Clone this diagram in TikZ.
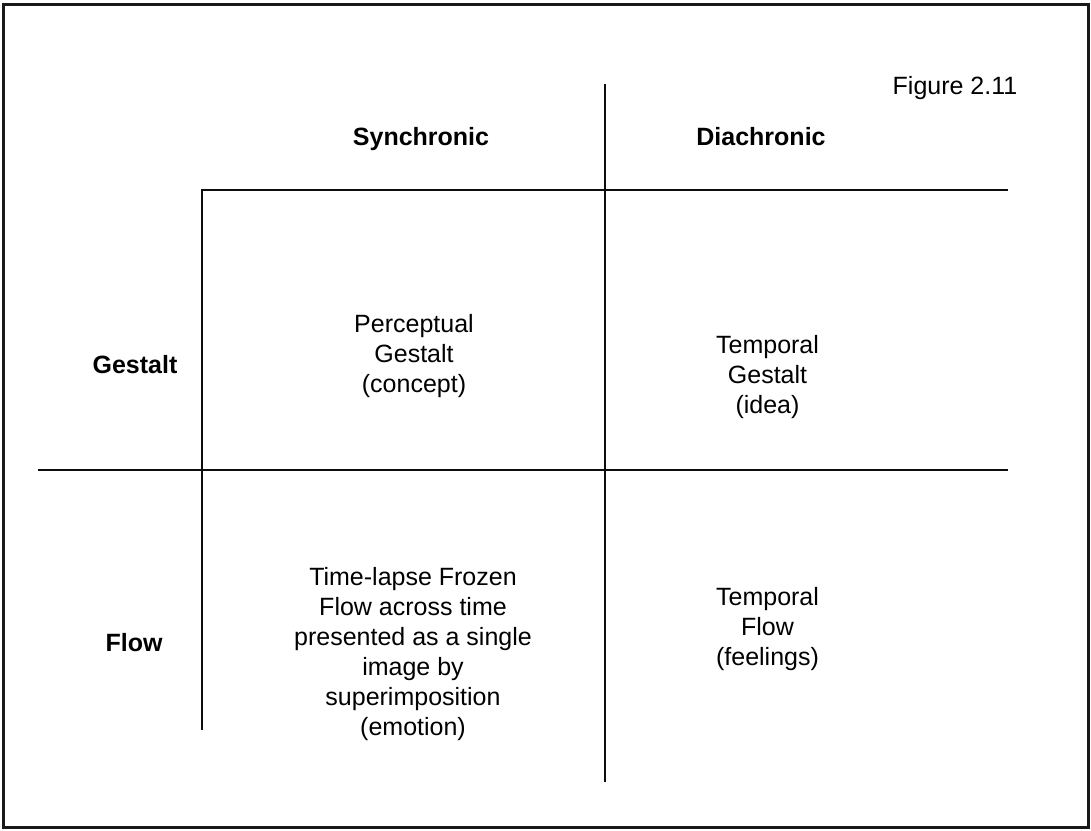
\documentclass[tikz,border=0pt]{standalone}
\usepackage{fontspec}
\setmainfont{Liberation Sans}
\begin{document}
\begin{tikzpicture}[x=1pt,y=-1pt,
  rule/.style={line width=2pt,color=black!95},
  frame/.style={line width=2.2pt,color=black!90},
  txt/.style={font=\fontsize{25}{30}\selectfont,align=center,anchor=base,inner sep=0pt},
  head/.style={txt,font=\fontsize{25}{30}\selectfont\bfseries}]
\useasboundingbox (0,0) rectangle (1091,830);
\draw[frame] (3.5,4.5) rectangle (1088.5,827.5);

% grid coordinates
\coordinate (vtop) at (604.5,84);
\coordinate (vbot) at (604.5,782);
\coordinate (htl) at (202,189.5);
\coordinate (htr) at (1008,189.5);
\coordinate (lvb) at (202,730);
\coordinate (hml) at (38,469.5);
\coordinate (hmr) at (1008,469.5);

\draw[rule] (vtop) -- (vbot);
\draw[rule] (htr) -- (htl) -- (lvb);
\draw[rule] (hml) -- (hmr);

% labels (anchored at the baseline of the last line)
\node[txt] (fig) at (955,94) {Figure 2.11};
\node[head] (sync) at (421,145) {Synchronic};
\node[head] (dia) at (761,145) {Diachronic};
\node[head] (gest) at (135,373) {Gestalt};
\node[head] (flow) at (134,651) {Flow};

% cells
\node[txt] (pg) at (414,392) {Perceptual\\Gestalt\\(concept)};
\node[txt] (tg) at (767.5,413) {Temporal\\Gestalt\\(idea)};
\node[txt] (tl) at (413,735) {Time-lapse Frozen\\Flow across time\\presented as a single\\image by\\superimposition\\(emotion)};
\node[txt] (tf) at (767.5,665) {Temporal\\Flow\\(feelings)};
\end{tikzpicture}
\end{document}
